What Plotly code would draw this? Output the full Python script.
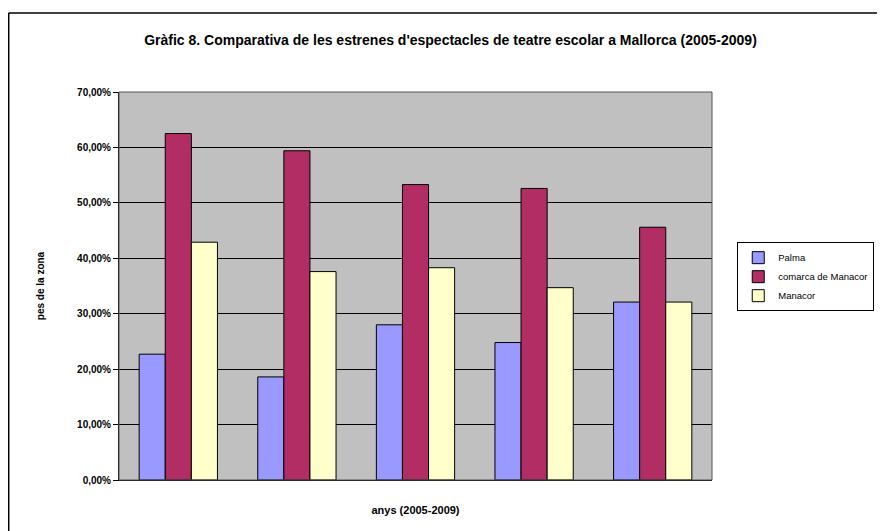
import plotly.graph_objects as go

anys = ['2005', '2006', '2007', '2008', '2009']
palma = [22.7, 18.6, 28.0, 24.8, 32.1]
comarca = [62.5, 59.4, 53.3, 52.6, 45.6]
manacor = [42.9, 37.6, 38.3, 34.7, 32.1]

y_ticks = [0, 10, 20, 30, 40, 50, 60, 70]
y_labels = ['0,00%', '10,00%', '20,00%', '30,00%', '40,00%', '50,00%', '60,00%', '70,00%']

fig = go.Figure(data=[
    go.Bar(x=anys, y=palma, name='Palma',
           marker=dict(color='#9999FF', line=dict(color='#000000', width=1))),
    go.Bar(x=anys, y=comarca, name='comarca de Manacor',
           marker=dict(color='#B22D63', line=dict(color='#000000', width=1))),
    go.Bar(x=anys, y=manacor, name='Manacor',
           marker=dict(color='#FFFFCC', line=dict(color='#000000', width=1))),
])

# marc exterior del gràfic (esquerra i dalt)
fig.add_shape(type='line', xref='paper', yref='paper',
              x0=-0.186, x1=-0.186, y0=-0.2, y1=1.2036,
              line=dict(color='#000000', width=1.5))
fig.add_shape(type='line', xref='paper', yref='paper',
              x0=-0.186, x1=1.35, y0=1.2036, y1=1.2036,
              line=dict(color='#000000', width=1.5))

fig.update_layout(
    width=885,
    height=531,
    barmode='group',
    bargap=0.34,
    bargroupgap=0,
    plot_bgcolor='#C0C0C0',
    paper_bgcolor='#FFFFFF',
    font=dict(family='Liberation Sans, Arial', color='#000000'),
    margin=dict(l=111, r=181, t=84, b=59),
    title=dict(
        text='Gràfic 8. Comparativa de les estrenes d\'espectacles de teatre escolar a Mallorca (2005-2009)',
        x=0.5, xanchor='center', y=0.94, yanchor='middle',
        font=dict(family='Liberation Sans', size=14, weight='bold')
    ),
    showlegend=True,
    legend=dict(
        xref='container', yref='container',
        x=0.824, y=0.559, xanchor='left', yanchor='top',
        bgcolor='#FFFFFF', bordercolor='#000000', borderwidth=1,
        font=dict(size=9.5, family='Liberation Sans'),
        tracegroupgap=0, itemwidth=30
    ),
    xaxis=dict(
        showticklabels=False, showgrid=False, ticks='',
        showline=True, linecolor='#000000', linewidth=1,
        title=dict(text='anys (2005-2009)', standoff=26,
                   font=dict(size=11, weight='bold', family='Liberation Sans'))
    ),
    yaxis=dict(
        range=[0, 70], tickvals=y_ticks, ticktext=y_labels,
        showgrid=True, gridcolor='#000000', gridwidth=1,
        ticks='outside', ticklen=5, tickcolor='#000000',
        showline=True, linecolor='#000000', linewidth=1,
        mirror=False, zeroline=False,
        tickfont=dict(size=10, weight='bold'),
        title=dict(text='pes de la zona', standoff=30,
                   font=dict(size=10, weight='bold', family='Liberation Sans'))
    ),
)

# vora de l'àrea de dibuix
fig.add_shape(type='rect', xref='paper', yref='paper', x0=0, x1=1, y0=0, y1=1,
              line=dict(color='#555555', width=1), layer='above')

fig.write_html('out.html')
